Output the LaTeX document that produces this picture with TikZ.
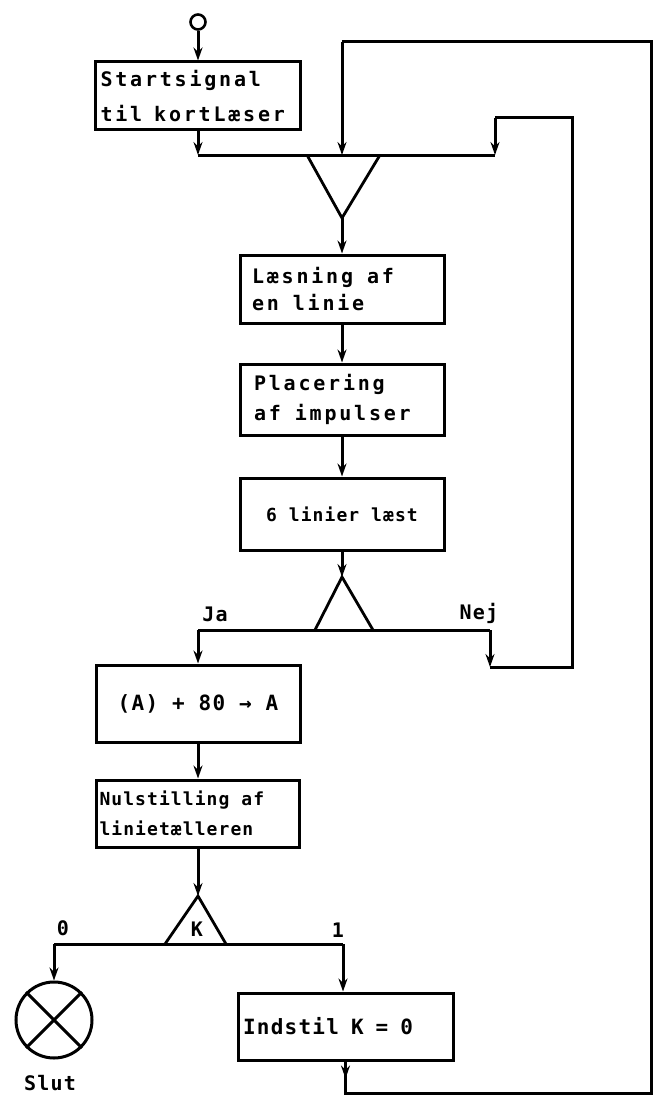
\documentclass[tikz,border=0pt]{standalone}
\usepackage{fontspec}
\setmainfont{DejaVu Sans}
\newfontfamily\lettA{DejaVu Sans Mono}[LetterSpace=14]
\newfontfamily\lettB{DejaVu Sans Mono}[LetterSpace=6]
\newcommand\wgap{\hspace*{14pt}}
\newcommand\ngap{\hspace*{12pt}}
\usetikzlibrary{arrows.meta}
\begin{document}
\begin{tikzpicture}[x=1pt,y=-1pt,line width=3pt,
  box/.style={draw, rectangle, line width=3pt, inner ysep=0pt},
  arr/.style={-{Stealth[length=13pt,width=9pt]}, line width=3pt},
  ln/.style={line width=3pt},
  tri/.style={line width=2.8pt, line join=miter},
  bigtxt/.style={font=\lettA\bfseries\fontsize{20}{30}\selectfont},
  smtxt/.style={font=\lettB\bfseries\fontsize{18}{30}\selectfont},
  midtxt/.style={font=\lettB\bfseries\fontsize{21}{30}\selectfont},
  lbl/.style={font=\lettB\bfseries\fontsize{20}{24}\selectfont, inner sep=0pt}]
\path[use as bounding box, clip] (0,0) rectangle (653,1097);

% start
\node[circle, draw, line width=2.6pt, minimum size=15pt, inner sep=0pt] (startc) at (198,22) {};
\node[box, minimum width=205pt, minimum height=68pt, inner xsep=5pt,
      text width=195pt, align=left, font=\lettA\bfseries\fontsize{20}{35}\selectfont]
      (start) at (198,96) {Startsignal\\til\ngap kortLæser};

% column boxes
\node[box, minimum width=204pt, minimum height=68pt, inner xsep=12pt,
      text width=180pt, align=left, font=\lettA\bfseries\fontsize{20}{27}\selectfont]
      (las) at (342,289) {Læsning\wgap af\\en\wgap linie};
\node[box, bigtxt, minimum width=204pt, minimum height=71pt, inner xsep=14pt,
      text width=176pt, align=left] (plac) at (342,399.5) {Placering\\af\wgap impulser};
\node[box, smtxt, minimum width=204pt, minimum height=72pt, align=center]
      (six) at (342,514) {6 linier læst};
\node[box, midtxt, minimum width=204pt, minimum height=77pt, align=center]
      (aplus) at (198,703.5) {(A) + 80 → A};
\node[box, smtxt, minimum width=203pt, minimum height=67pt, inner xsep=3pt,
      text width=197pt, align=left] (nul) at (198,813.5) {Nulstilling\ngap af\\linietælleren};
\node[box, midtxt, minimum width=215pt, minimum height=67pt, inner xsep=5pt,
      text width=205pt, align=left] (ind) at (345.5,1026.5) {Indstil\ngap K\ngap =\ngap 0};
\node[circle, draw, line width=3pt, minimum size=76pt, inner sep=0pt] (slut) at (54,1020) {};
\draw[ln] (slut.north west) -- (slut.south east) (slut.north east) -- (slut.south west);

% coordinates
\coordinate (busL) at (198,155);
\coordinate (busR) at (495,155);
\coordinate (busIn) at (342,155);
\coordinate (m1) at (307,155);
\coordinate (m2) at (380,155);
\coordinate (mA) at (342,218);
\coordinate (topIn) at (342,42);
\coordinate (topR) at (651,42);
\coordinate (botR) at (651,1093);
\coordinate (r2L) at (495,118);
\coordinate (r2T) at (572,118);
\coordinate (r2B) at (572,667);
\coordinate (nejC) at (490,630);
\coordinate (nejD) at (490,667);
\coordinate (ja) at (198,630);
\coordinate (dA) at (342,577);
\coordinate (dL) at (315,630);
\coordinate (dR) at (373,630);
\coordinate (kA) at (198,896);
\coordinate (kL) at (165,944);
\coordinate (kR) at (226,944);
\coordinate (k0) at (54,944);
\coordinate (k1) at (343,944);

% top flow
\draw[arr] (startc) -- (start.north);
\draw[arr] (start.south) -- (busL);
\draw[ln] (busL) -- (busR);
\draw[tri] (m1) -- (mA) -- (m2);
\draw[arr] (mA) -- (las.north);
\draw[arr] (las.south) -- (plac.north);
\draw[arr] (plac.south) -- (six.north);
\draw[arr] (six.south) -- (dA);
\draw[tri] (dL) -- (dA) -- (dR);

% decision Ja / Nej
\draw[ln] (ja) -- (nejC);
\node[lbl] (jaL) at (215,614) {Ja};
\node[lbl] (nejL) at (479,613) {Nej};
\draw[arr] (ja) -- (aplus.north);
\draw[arr] (nejC) -- (nejD);
\draw[ln] (nejD) -- (r2B) -- (r2T) -- (r2L);
\draw[arr] (r2L) -- (busR);

% lower flow
\draw[arr] (aplus.south) -- (nul.north);
\draw[arr] (nul.south) -- (kA);
\draw[tri] (kL) -- (kA) -- (kR);
\node[lbl] (kLbl) at (197,929) {K};
\draw[ln] (k0) -- (k1);
\node[lbl] (zero) at (63,928) {0};
\node[lbl] (one) at (338,930) {1};
\draw[arr] (k0) -- (slut.north);
\node[lbl] (slutL) at (50,1083) {Slut};
\draw[arr] (k1) -- (k1 |- ind.north);

% outer loop
\draw[arr] (ind.south) -- ++(0,17);
\draw[ln] (ind.south) |- (botR) -- (topR) -- (topIn);
\draw[arr] (topIn) -- (busIn);
\end{tikzpicture}
\end{document}
